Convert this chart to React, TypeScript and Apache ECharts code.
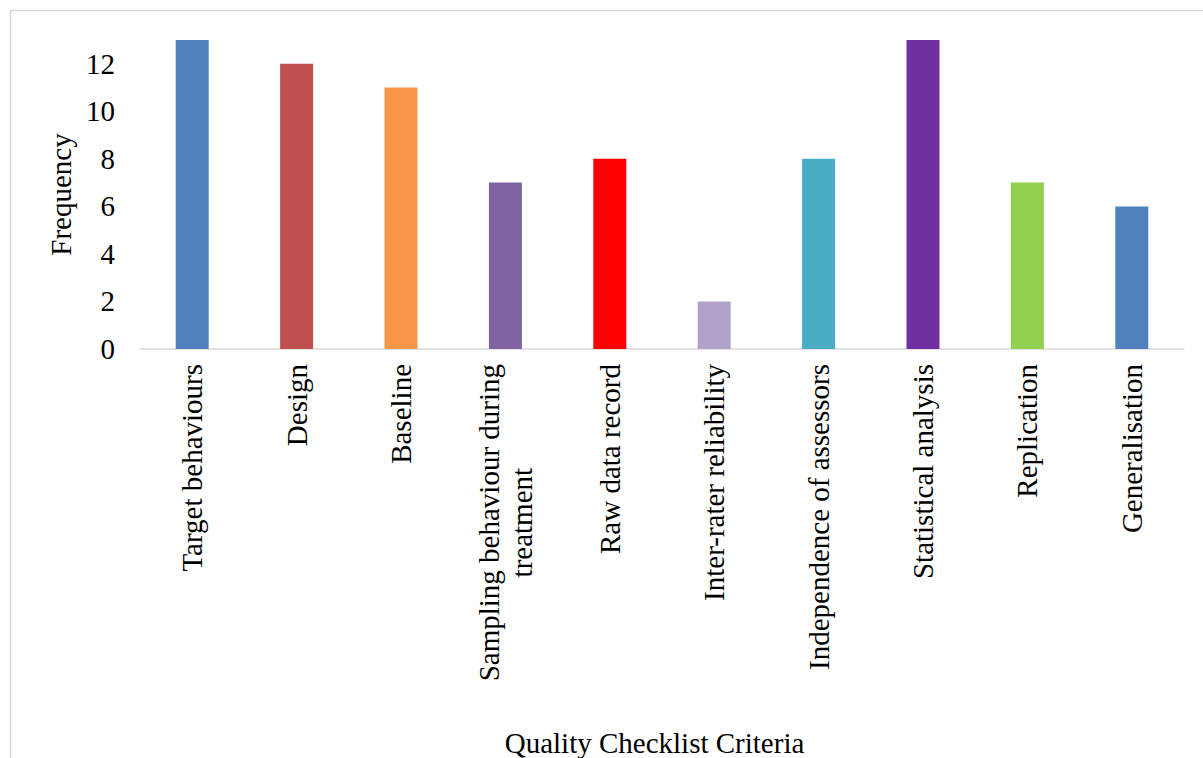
import React, { useEffect, useRef } from "react";
import * as echarts from "echarts";

const categories = [
  "Target behaviours",
  "Design",
  "Baseline",
  "Sampling behaviour during\ntreatment",
  "Raw data record",
  "Inter-rater reliability",
  "Independence of assessors",
  "Statistical analysis",
  "Replication",
  "Generalisation",
];

const frequencies = [13, 12, 11, 7, 8, 2, 8, 13, 7, 6];

const barColors = [
  "#4F81BD",
  "#C0504D",
  "#F79646",
  "#8064A2",
  "#FF0000",
  "#B2A2C7",
  "#4BACC6",
  "#7030A0",
  "#92D050",
  "#4F81BD",
];

const FONT = "Liberation Serif";
const FONT_SIZE = 29;

export default function App() {
  const ref = useRef<HTMLDivElement>(null);

  useEffect(() => {
    if (!ref.current) return;
    const chart = echarts.init(ref.current, undefined, { renderer: "svg" });
    const textStyle = { fontFamily: FONT, fontSize: FONT_SIZE, color: "#000" };
    chart.setOption({
      animation: false,
      backgroundColor: "#ffffff",
      textStyle: { fontFamily: FONT },
      graphic: [
        {
          type: "rect",
          shape: { x: 10.5, y: 10.5, width: 1220, height: 780 },
          style: { fill: "none", stroke: "#D9D9D9", lineWidth: 1.5 },
          silent: true,
        },
      ],
      grid: { left: 140, right: 19, top: 40, bottom: 408, containLabel: false },
      xAxis: {
        type: "category",
        data: categories,
        name: "Quality Checklist Criteria",
        nameLocation: "middle",
        nameGap: 379,
        nameTextStyle: { ...textStyle, padding: [0, 15, 0, 0] },
        axisLine: { lineStyle: { color: "#D9D9D9", width: 1.5 } },
        axisTick: { show: false },
        axisLabel: {
          rotate: 90,
          interval: 0,
          margin: 15,
          ...textStyle,
          formatter: (v: string) =>
            v
              .split("\n")
              .map((line) => `{c|${line}}`)
              .join("\n"),
          rich: {
            c: { ...textStyle, align: "center", lineHeight: 33 },
          },
        },
      },
      yAxis: {
        type: "value",
        min: 0,
        max: 13,
        interval: 2,
        name: "Frequency",
        nameLocation: "middle",
        nameGap: 62,
        nameTextStyle: textStyle,
        splitLine: { show: false },
        axisLine: { show: false },
        axisTick: { show: false },
        axisLabel: {
          showMaxLabel: false,
          margin: 25,
          ...textStyle,
          formatter: (v: number) => (v > 12 ? "" : `{n|${v}}`),
          rich: { n: { ...textStyle } },
        },
      },
      series: [
        {
          type: "bar",
          data: frequencies.map((v, i) => ({
            value: v,
            itemStyle: { color: barColors[i] },
          })),
          barWidth: "31.6%",
        },
      ],
    });
    return () => chart.dispose();
  }, []);

  return (
    <div
      ref={ref}
      style={{ position: "fixed", left: 0, top: 0, width: 1203, height: 758 }}
    />
  );
}
